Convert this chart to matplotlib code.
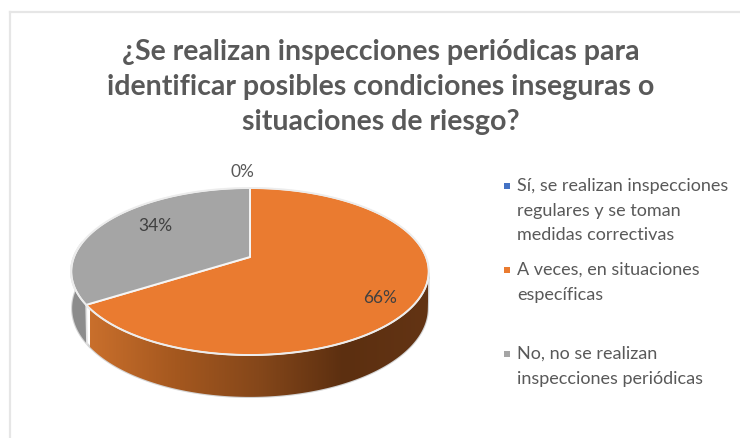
import numpy as np
import matplotlib
matplotlib.use("Agg")
import matplotlib.pyplot as plt
from matplotlib.colors import LinearSegmentedColormap
from matplotlib.patches import Polygon

title = "¿Se realizan inspecciones periódicas para\nidentificar posibles condiciones inseguras o\nsituaciones de riesgo?"
categories = [
    "Sí, se realizan inspecciones\nregulares y se toman\nmedidas correctivas",
    "A veces, en situaciones\nespecíficas",
    "No, no se realizan\ninspecciones periódicas",
]
values = [0, 66, 34]
colors = ["#4472c4", "#ea7b30", "#a5a5a5"]
wall_colors = ["#c96f2c", "#a5581f", "#85471a", "#5c2f10", "#633414"]

TEXT = "#595959"
CX, CY = 250, 257
K, A, B = 0.1737, 81, 176
DEPTH, SHRINK_X, SHRINK_Y = 36, 0.995, 1.06


def project(theta, r=1.0, bottom=False):
    # theta is clockwise from the top of the pie, perspective as in the 3D pie
    u = r * np.sin(theta)
    v = r * np.cos(theta)
    x = B * u / (1 + K * v)
    y = -A * v / (1 + K * v)
    if bottom:
        return CX + x * SHRINK_X, CY + y * SHRINK_Y + DEPTH
    return CX + x, CY + y


def wall_polygon(t1, t2):
    th = np.linspace(t1, t2, 120)
    x1, y1 = project(th)
    x2, y2 = project(th[::-1], bottom=True)
    return np.column_stack([np.r_[x1, x2], np.r_[y1, y2]])


fig = plt.figure(figsize=(7.4, 4.38), dpi=100)
ax = fig.add_axes([0, 0, 1, 1])
ax.set_xlim(0, 740)
ax.set_ylim(438, 0)
ax.axis("off")

# chart frame, only top and left are in the crop
ax.plot([10, 740], [12, 12], color="#e6e6e6", lw=1.6)
ax.plot([10, 10], [12, 438], color="#e6e6e6", lw=1.6)

ax.text(381, 87, title, ha="center", va="center", fontsize=20.5, family="Lato",
        fontweight="bold", color=TEXT, linespacing=1.41)

edges = np.cumsum([0] + values) / sum(values) * 2 * np.pi

# side wall, only the front half of the rim is visible
front_start = np.pi * 0.56
orange_end, grey_end = edges[2], np.pi * 1.56

outline = wall_polygon(front_start, grey_end)
ax.add_patch(Polygon(outline, closed=True, fc="none", ec="#d4d4d4", lw=1.6, zorder=1))

orange_wall = Polygon(wall_polygon(front_start, orange_end), closed=True, fc="none", ec="none", zorder=2)
ax.add_patch(orange_wall)
cmap = LinearSegmentedColormap.from_list("wall", wall_colors)
grad = np.linspace(0, 1, 256).reshape(1, -1)
im = ax.imshow(grad, cmap=cmap, extent=[90, 428, 400, 260], aspect="auto", zorder=2)
im.set_clip_path(orange_wall)
ax.set_xlim(0, 740)
ax.set_ylim(438, 0)

ax.add_patch(Polygon(wall_polygon(orange_end, grey_end), closed=True, fc="#8c8c8c", ec="none", zorder=2))
bx, by = project(orange_end)
bx2, by2 = project(orange_end, bottom=True)
ax.plot([bx, bx2], [by, by2], color="#e4e4e4", lw=1.2, zorder=3)

# top face
for val, col, t1, t2 in zip(values, colors, edges[:-1], edges[1:]):
    if val == 0:
        continue
    th = np.linspace(t1, t2, 200)
    x, y = project(th)
    ax.fill(np.r_[CX, x], np.r_[CY, y], fc=col, ec="#f5f5f5", lw=1.4, zorder=4, joinstyle="round")

# rim of the top face
th = np.linspace(0, 2 * np.pi, 400)
x, y = project(th)
ax.plot(x, y, color="#ececec", lw=1.1, zorder=5)

label_pos = [(242, 172), (380, 298), (155, 226)]
for val, (lx, ly) in zip(values, label_pos):
    ax.text(lx, ly, f"{val}%", ha="center", va="center", fontsize=12.5, family="Lato",
            color="#404040" if val else TEXT, zorder=6)

# legend
legend_y = [186, 270, 354]
for cat, col, ly in zip(categories, colors, legend_y):
    ax.scatter([507], [ly], marker="s", s=20, color=col, linewidths=0)
    for i, line in enumerate(cat.split("\n")):
        ax.text(517, ly + i * 24.6, line, ha="left", va="center", fontsize=13, family="Lato", color=TEXT)

fig.savefig("out.png", dpi=100)
